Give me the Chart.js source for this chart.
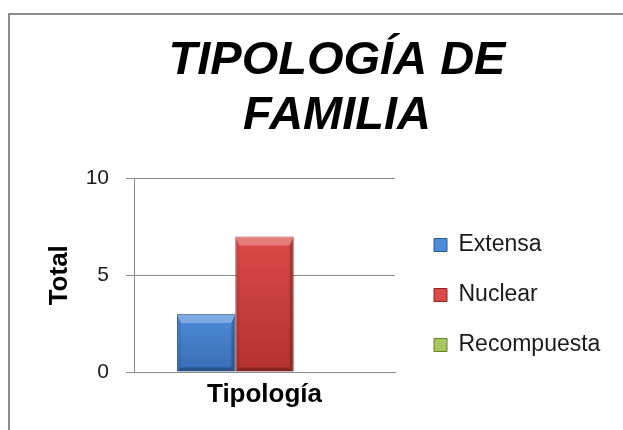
<!DOCTYPE html>
<html>
<head>
<meta charset="utf-8">
<script src="https://cdn.jsdelivr.net/npm/chart.js@4.4.1/dist/chart.umd.min.js"></script>
<style>
  html, body { margin: 0; padding: 0; background: #fff; }
  #wrap { width: 623px; height: 430px; position: relative; }
</style>
</head>
<body>
<div id="wrap"><canvas id="tipologia"></canvas></div>
<script>
// data
const categories = ['Tipología'];
const seriesNames = ['Extensa', 'Nuclear', 'Recompuesta'];
const extensa = [3];
const nuclear = [7];
const recompuesta = [0];
const yTicks = [0, 5, 10];

// top / bottom of body, edge colour for each series
const shades = [
    ['#4e8cd8', '#386db5', '#2a5894'],
    ['#dc4a47', '#b3322f', '#8e2523'],
    ['#a6c85e', '#86a83c', '#64822a']
];

function barFill(i) {
    const [top, bottom] = shades[i];
    return function(context) {
        const chart = context.chart;
        if (!chart.chartArea || context.type !== 'data') return top;
        const y = chart.scales.y;
        const t = y.getPixelForValue(context.parsed.y);
        const b = y.getPixelForValue(0);
        if (b - t < 4) return top;
        const g = chart.ctx.createLinearGradient(0, t, 0, b);
        g.addColorStop(0, top);
        g.addColorStop(1, bottom);
        return g;
    };
}

function quad(c, pts, fill) {
    c.beginPath();
    c.moveTo(pts[0][0], pts[0][1]);
    for (let k = 1; k < pts.length; k++) c.lineTo(pts[k][0], pts[k][1]);
    c.closePath();
    c.fillStyle = fill;
    c.fill();
}

const framePlugin = {
    id: 'frame',
    afterInit(chart) {
        // legend gets a fixed width so the long labels are not squeezed
        const lg = chart.legend;
        const fit = lg.fit.bind(lg);
        lg.fit = function() {
            fit();
            this.width = 223;
        };
    },
    beforeDraw(chart) {
        const c = chart.ctx;
        c.save();
        c.fillStyle = '#fff';
        c.fillRect(0, 0, chart.width, chart.height);
        c.strokeStyle = '#8c8c8c';
        c.lineWidth = 2;
        c.beginPath();
        c.moveTo(9, chart.height);
        c.lineTo(9, 14);
        c.lineTo(chart.width, 14);
        c.stroke();
        c.restore();
    },
    afterDatasetsDraw(chart) {
        // bevelled look of the bars, on top of the library's rectangles
        const c = chart.ctx;
        c.save();
        chart.data.datasets.forEach((ds, i) => {
            chart.getDatasetMeta(i).data.forEach(bar => {
                const p = bar.getProps(['x', 'y', 'width', 'base'], true);
                const L = p.x - p.width / 2, R = p.x + p.width / 2;
                const T = p.y, B = p.base;
                if (B - T < 12) return;
                const s = 4, h = 9;
                quad(c, [[L, T], [R, T], [R - s, T + h], [L + s, T + h]], 'rgba(255,255,255,0.28)');
                quad(c, [[L, T], [L + s, T + h], [L + s, B - s], [L, B]], 'rgba(0,0,0,0.08)');
                quad(c, [[R, T], [R - s, T + h], [R - s, B - s], [R, B]], 'rgba(0,0,0,0.22)');
                quad(c, [[L, B], [L + s, B - s], [R - s, B - s], [R, B]], 'rgba(0,0,0,0.25)');
            });
        });
        c.restore();
    }
};

const allSeries = [extensa, nuclear, recompuesta];

new Chart(document.getElementById('tipologia'), {
    type: 'bar',
    data: {
        labels: categories,
        datasets: allSeries.map((values, i) => ({
            label: seriesNames[i],
            data: values,
            backgroundColor: barFill(i),
            borderColor: shades[i][2],
            borderWidth: 1,
            categoryPercentage: 0.67,
            barPercentage: 1
        }))
    },
    options: {
        responsive: true,
        maintainAspectRatio: false,
        animation: false,
        layout: {
            padding: { left: 44, right: -7, top: 0, bottom: 0 }
        },
        plugins: {
            title: {
                display: true,
                text: ['TIPOLOGÍA DE', 'FAMILIA'],
                color: '#000',
                font: { family: 'Liberation Sans', size: 47, weight: 'bold', style: 'italic', lineHeight: 1.17 },
                padding: { top: 34, bottom: 34.5 }
            },
            legend: {
                position: 'right',
                title: {
                    display: true,
                    text: ' ',
                    font: { size: 10, lineHeight: 1 },
                    padding: { top: 150, bottom: 0 }
                },
                labels: {
                    color: '#1a1a1a',
                    font: { family: 'Liberation Sans', size: 23 },
                    boxWidth: 13,
                    boxHeight: 13,
                    padding: 27,
                    generateLabels(chart) {
                        const items = Chart.defaults.plugins.legend.labels.generateLabels(chart);
                        items.forEach((it, i) => {
                            it.fillStyle = shades[i][0];
                            it.strokeStyle = shades[i][2];
                            it.lineWidth = 1;
                        });
                        return items;
                    }
                }
            },
            tooltip: { enabled: false }
        },
        scales: {
            x: {
                grid: { display: false, drawTicks: false },
                border: { display: true, color: '#8c8c8c' },
                ticks: {
                    color: '#000',
                    padding: 7,
                    font: { family: 'Liberation Sans', size: 26, weight: 'bold' }
                },
                afterFit(scale) {
                    scale.height = 58;
                }
            },
            y: {
                min: 0,
                max: 10,
                afterBuildTicks(scale) {
                    scale.ticks = yTicks.map(v => ({ value: v }));
                },
                grid: { color: '#8c8c8c', tickLength: 8 },
                border: { color: '#8c8c8c' },
                ticks: {
                    color: '#1a1a1a',
                    padding: 17,
                    font: { family: 'Liberation Sans', size: 21 }
                },
                title: {
                    display: true,
                    text: 'Total',
                    color: '#000',
                    padding: { top: 3, bottom: 0 },
                    font: { family: 'Liberation Sans', size: 26, weight: 'bold', lineHeight: 1 }
                },
                afterFit(scale) {
                    scale.width = 90;
                }
            },
            gap: {
                position: 'right',
                display: true,
                grid: { display: false, drawTicks: false },
                border: { display: false },
                ticks: { display: false },
                afterFit(scale) {
                    scale.width = 12;
                }
            }
        }
    },
    plugins: [framePlugin]
});
</script>
</body>
</html>
